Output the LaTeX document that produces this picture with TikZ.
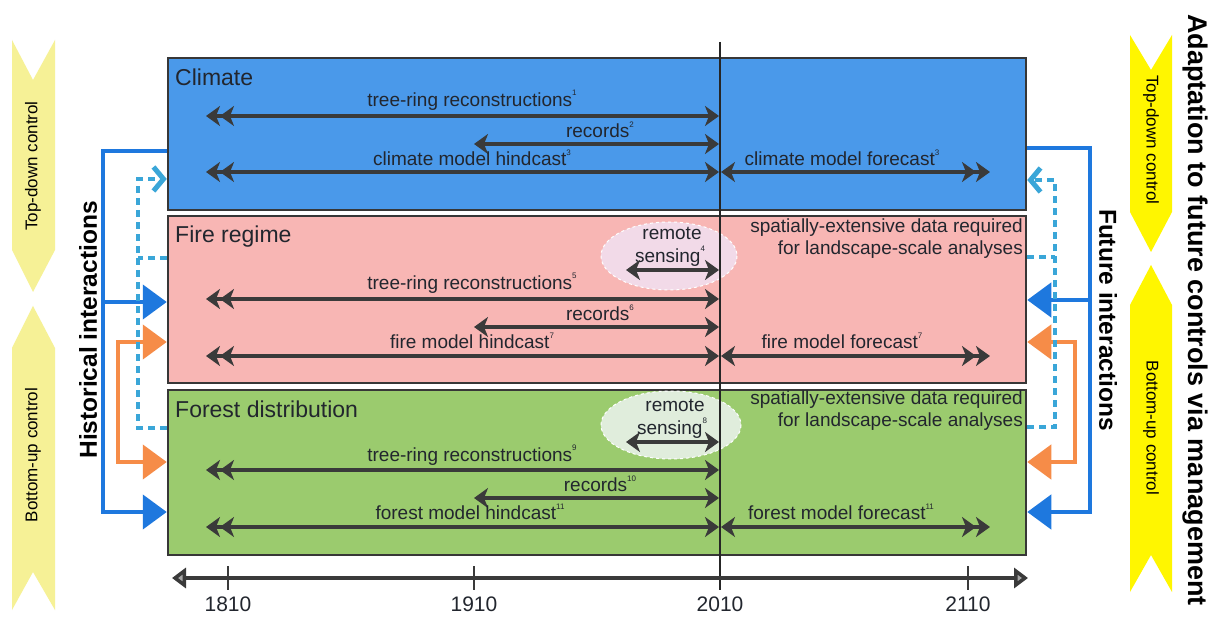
\documentclass[tikz,border=0pt]{standalone}
\usepackage{fontspec}
\setmainfont{Liberation Sans}
\usetikzlibrary{arrows.meta}
\definecolor{climfill}{RGB}{74,153,234}
\definecolor{firefill}{RGB}{248,182,180}
\definecolor{forfill}{RGB}{155,203,110}
\definecolor{boxline}{RGB}{55,55,55}
\definecolor{arrgray}{RGB}{58,58,58}
\definecolor{connblue}{RGB}{30,120,222}
\definecolor{connorange}{RGB}{246,140,72}
\definecolor{conndash}{RGB}{58,166,216}
\definecolor{paleyellow}{RGB}{246,241,150}
\definecolor{brightyellow}{RGB}{255,246,0}
\definecolor{txtdark}{RGB}{34,38,46}
\definecolor{rsfire}{RGB}{242,218,232}
\definecolor{rsforest}{RGB}{224,237,220}
\newcommand\labfont{\fontsize{19}{22}\selectfont}
\newcommand\ttlfont{\fontsize{23}{26}\selectfont}
\newcommand\sidefont{\fontsize{17}{20}\selectfont}
\newcommand\bigfont{\bfseries\fontsize{24.5}{28}\selectfont}
\newcommand\hugefont{\bfseries\fontsize{27}{30}\selectfont}
\newcommand\axfont{\fontsize{21}{24}\selectfont}
\newcommand\sups[1]{\raisebox{0.55em}{\fontsize{8}{8}\selectfont #1}}
\tikzset{
 longarr/.style={arrows={Stealth[length=14pt,width=20pt,inset=4pt]Stealth[length=14pt,width=20pt,inset=4pt]-Stealth[length=14pt,width=20pt,inset=4pt]}},
 shortarr/.style={arrows={Stealth[length=14pt,width=20pt,inset=4pt]-Stealth[length=14pt,width=20pt,inset=4pt]}},
 fcarr/.style={arrows={Stealth[length=14pt,width=20pt,inset=4pt]-Stealth[length=14pt,width=20pt,inset=4pt]Stealth[length=14pt,width=20pt,inset=4pt]}},
 bigtri/.style={arrows={-Triangle[length=24pt,width=34pt]}},
 bigtritwo/.style={arrows={Triangle[length=24pt,width=34pt]-Triangle[length=24pt,width=34pt]}},
 dashtip/.style={arrows={-Straight Barb[length=10pt,width=24pt,line width=5pt]}},
 band/.style={rectangle, draw=boxline, line width=2.5pt, inner sep=0pt, minimum width=858pt},
 lab/.style={font=\labfont, text=txtdark, inner sep=0pt},
 ttl/.style={font=\ttlfont, text=txtdark, anchor=west, inner sep=0pt},
 tline/.style={draw=arrgray, line width=4.5pt},
 bconn/.style={draw=connblue, line width=4.5pt},
 oconn/.style={draw=connorange, line width=4.5pt},
 dconn/.style={draw=conndash, line width=4pt, dash pattern=on 7pt off 5pt},
 axlab/.style={font=\axfont, text=txtdark, inner sep=0pt},
 sidetxt/.style={font=\sidefont, text=black, inner sep=0pt},
}
\begin{document}
\begin{tikzpicture}[x=1pt,y=-1pt]
\useasboundingbox (0,0) rectangle (1216,620);
\fill[white] (0,0) rectangle (1216,620);

% bands
\node[band, fill=climfill, minimum height=152pt] (climate) at (597,134) {};
\node[band, fill=firefill, minimum height=167pt] (fire) at (597,299.5) {};
\node[band, fill=forfill, minimum height=165pt] (forest) at (597,472.5) {};

% remote sensing ellipses
\draw[fill=rsfire, draw=white, dashed, line width=1pt] (669,256) ellipse [x radius=68, y radius=34];
\draw[fill=rsforest, draw=white, dashed, line width=1pt] (671,425) ellipse [x radius=70, y radius=34];

% 2010 vertical line
\coordinate (vtop) at (720,42);
\coordinate (vbot) at (720,590);
\draw[line width=2pt, draw=black!85] (vtop) -- (vbot);

% titles
\node[ttl] (tclim) at (175,77) {Climate};
\node[ttl] (tfire) at (175,237) {Fire regime};
\node[ttl] (tfor) at (175,409) {Forest distribution};

% climate rows
\node[lab] (c1) at (472,100) {tree-ring reconstructions\sups{1}};
\draw[tline, longarr] (206,116) -- (719,116);
\node[lab] (c2) at (600,130) {records\sups{2}};
\draw[tline, shortarr] (474,144) -- (719,144);
\node[lab] (c3) at (472,158) {climate model hindcast\sups{3}};
\draw[tline, longarr] (206,172) -- (719,172);
\node[lab] (c4) at (842,158) {climate model forecast\sups{3}};
\draw[tline, fcarr] (721,172) -- (990,172);

% fire rows
\node[lab] (f0a) at (672,233) {remote};
\node[lab] (f0b) at (670,256) {sensing\sups{4}};
\draw[tline, shortarr] (626,270) -- (719,270);
\node[lab, align=right, anchor=east] (fsp) at (1023,239) {spatially-extensive data required\\for landscape-scale analyses};
\node[lab] (f1) at (472,283) {tree-ring reconstructions\sups{5}};
\draw[tline, longarr] (206,299) -- (719,299);
\node[lab] (f2) at (600,313) {records\sups{6}};
\draw[tline, shortarr] (474,327) -- (719,327);
\node[lab] (f3) at (472,341) {fire model hindcast\sups{7}};
\draw[tline, longarr] (206,356) -- (719,356);
\node[lab] (f4) at (842,341) {fire model forecast\sups{7}};
\draw[tline, fcarr] (721,356) -- (990,356);

% forest rows
\node[lab] (g0a) at (675,405) {remote};
\node[lab] (g0b) at (672,428) {sensing\sups{8}};
\draw[tline, shortarr] (626,442) -- (719,442);
\node[lab, align=right, anchor=east] (gsp) at (1023,411) {spatially-extensive data required\\for landscape-scale analyses};
\node[lab] (g1) at (472,455) {tree-ring reconstructions\sups{9}};
\draw[tline, longarr] (206,470) -- (719,470);
\node[lab] (g2) at (600,484) {records\sups{10}};
\draw[tline, shortarr] (474,498) -- (719,498);
\node[lab] (g3) at (470,512) {forest model hindcast\sups{11}};
\draw[tline, longarr] (206,527) -- (719,527);
\node[lab] (g4) at (841,512) {forest model forecast\sups{11}};
\draw[tline, fcarr] (721,527) -- (990,527);

% time axis
\coordinate (axL) at (172,578);
\coordinate (axR) at (1028,578);
\draw[line width=4pt, draw=arrgray, {Triangle[length=14pt,width=20pt,fill=gray!70]}-{Triangle[length=14pt,width=20pt,fill=gray!70]}] (axL) -- (axR);
\foreach \xx in {228,474,968} { \draw[line width=2pt, draw=arrgray] (\xx,566) -- (\xx,590); }
\node[axlab] (y1810) at (228,604) {1810};
\node[axlab] (y1910) at (474,604) {1910};
\node[axlab] (y2010) at (720,604) {2010};
\node[axlab] (y2110) at (968,604) {2110};

% left connectors
\coordinate (lb1) at (103,151); \coordinate (lb2) at (103,302); \coordinate (lb3) at (103,512);
\draw[bconn, bigtri] (climate.west |- lb1) -- (lb1) -- (lb3) -- (forest.west |- lb3);
\draw[bconn, bigtri] (lb2) -- (fire.west |- lb2);
\coordinate (lo1) at (118,342); \coordinate (lo2) at (118,462);
\draw[oconn, bigtritwo] (fire.west |- lo1) -- (lo1) -- (lo2) -- (forest.west |- lo2);
\coordinate (ld1) at (138,179); \coordinate (ld2) at (138,258); \coordinate (ld3) at (138,428);
\draw[dconn, dashtip] (forest.west |- ld3) -- (ld3) -- (ld1) -- (climate.west |- ld1);
\draw[dconn] (fire.west |- ld2) -- (ld2);

% right connectors
\coordinate (rb1) at (1090,148); \coordinate (rb2) at (1090,300); \coordinate (rb3) at (1090,512);
\draw[bconn, bigtri] (climate.east |- rb1) -- (rb1) -- (rb3) -- (forest.east |- rb3);
\draw[bconn, bigtri] (rb2) -- (fire.east |- rb2);
\coordinate (ro1) at (1075,342); \coordinate (ro2) at (1075,462);
\draw[oconn, bigtritwo] (fire.east |- ro1) -- (ro1) -- (ro2) -- (forest.east |- ro2);
\coordinate (rd1) at (1055,180); \coordinate (rd2) at (1055,257); \coordinate (rd3) at (1055,427);
\draw[dconn, dashtip] (forest.east |- rd3) -- (rd3) -- (rd1) -- (climate.east |- rd1);
\draw[dconn] (fire.east |- rd2) -- (rd2);

% yellow control shapes
\fill[paleyellow] (12,40) -- (33,80) -- (55,40) -- (55,250) -- (33,292) -- (12,250) -- cycle;
\fill[paleyellow] (33,306) -- (55,348) -- (55,610) -- (33,572) -- (12,610) -- (12,348) -- cycle;
\fill[brightyellow] (1130,35) -- (1151,70) -- (1172,35) -- (1172,212) -- (1151,252) -- (1130,212) -- cycle;
\fill[brightyellow] (1151,265) -- (1172,305) -- (1172,592) -- (1151,555) -- (1130,592) -- (1130,305) -- cycle;
\node[sidetxt, rotate=90] (ltd) at (33,166) {Top-down control};
\node[sidetxt, rotate=90] (lbu) at (33,455) {Bottom-up control};
\node[sidetxt, rotate=-90] (rtd) at (1151,140) {Top-down control};
\node[sidetxt, rotate=-90] (rbu) at (1151,428) {Bottom-up control};

% side titles
\node[font=\bigfont, rotate=90, inner sep=0pt] (hist) at (88,330) {Historical interactions};
\node[font=\bigfont, rotate=-90, inner sep=0pt] (fut) at (1108,320) {Future interactions};
\node[font=\hugefont, rotate=-90, inner sep=0pt] (adapt) at (1195,310) {Adaptation to future controls via management};
\end{tikzpicture}
\end{document}
